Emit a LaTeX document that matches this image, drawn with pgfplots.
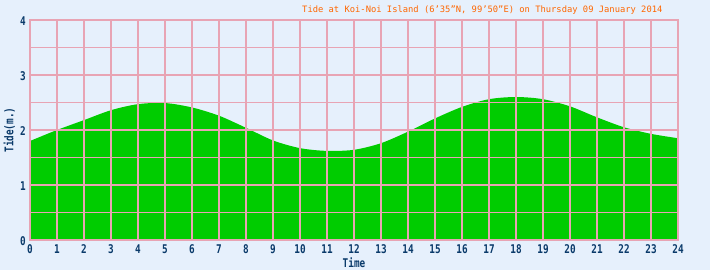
\documentclass[border=0pt]{standalone}
\usepackage{pgfplots}
\pgfplotsset{compat=1.18}
\usepackage{fontspec}
\setmainfont{DejaVu Sans Mono}
\newfontfamily\tickfont[FakeStretch=0.78]{DejaVu Sans Mono Bold}
\definecolor{bgblue}{HTML}{E6F0FC}
\definecolor{tidegreen}{HTML}{00CC00}
\definecolor{gridpink}{HTML}{E8A4B4}
\definecolor{navy}{HTML}{0A3A6A}
\definecolor{titleorange}{HTML}{FF6600}
\begin{document}
\begin{tikzpicture}[x=1pt,y=1pt]
\useasboundingbox (0,0) rectangle (710,270);
\fill[bgblue] (0,0) rectangle (710,270);
\begin{axis}[
  at={(30pt,30pt)}, anchor=south west,
  scale only axis, width=648pt, height=220pt,
  xmin=0, xmax=24, ymin=0, ymax=4,
  xtick={0,1,...,24}, ytick={0,1,2,3,4},
  minor xtick={}, minor ytick={0.5,1.5,2.5,3.5},
  grid=both,
  major grid style={gridpink, line width=2pt},
  minor grid style={gridpink, line width=1pt},
  axis line style={gridpink, line width=2pt},
  axis on top,
  tick style={draw=none},
  tick label style={font=\tickfont\fontsize{12}{12}\selectfont, text=navy, inner sep=0pt},
  xticklabel style={anchor=center, yshift=-9pt},
  yticklabel style={anchor=center, xshift=-7pt, yshift=-1pt},
  /pgf/number format/assume math mode=true,
  xlabel={Time}, ylabel={Tide(m.)},
  label style={font=\tickfont\fontsize{12}{12}\selectfont, text=navy, inner sep=0pt},
  xlabel style={at={(axis description cs:0.5,-0.1045)}, anchor=center},
  ylabel style={at={(axis description cs:-0.032,0.5)}, anchor=center},
]
\addplot[fill=tidegreen, draw=none, smooth] coordinates {
(0,1.80) (1,2.00) (2,2.18) (3,2.36) (4,2.47) (5,2.49) (6,2.41) (7,2.26)
(8,2.04) (9,1.81) (10,1.67) (11,1.62) (12,1.64) (13,1.76) (14,1.97)
(15,2.21) (16,2.42) (17,2.56) (18,2.60) (19,2.56) (20,2.43) (21,2.23)
(22,2.05) (23,1.93) (24,1.85)} \closedcycle;
\end{axis}
\node[font=\fontsize{8.8}{10}\selectfont, text=titleorange, anchor=east] at (666,260) {Tide at Koi-Noi Island (6’35"N, 99’50"E) on Thursday 09 January 2014};
\end{tikzpicture}
\end{document}
